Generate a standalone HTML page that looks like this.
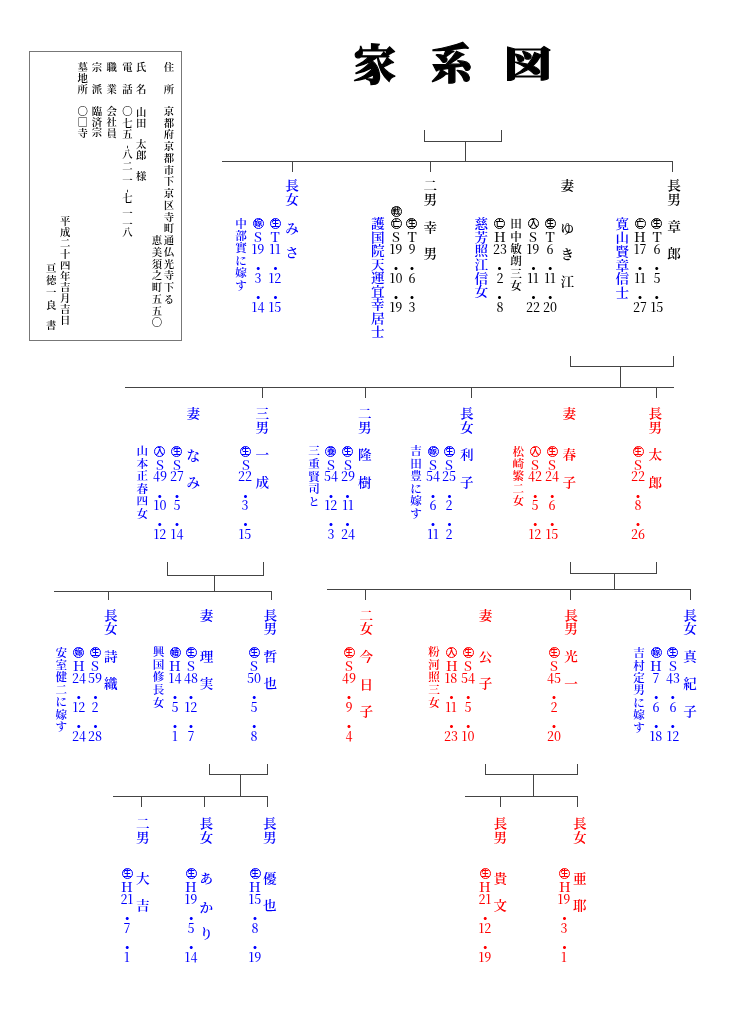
<!DOCTYPE html>
<html lang="ja"><head><meta charset="utf-8"><title>家系図</title><style>
*{margin:0;padding:0;box-sizing:border-box}
html,body{width:729px;height:1032px;background:#fff;overflow:hidden}
body{position:relative}
#w{position:absolute;left:0;top:0;width:729px;height:1032px;will-change:transform}
.c,.l{position:absolute;width:30px;height:30px;line-height:30px;text-align:center;white-space:nowrap}
.c{font-family:"Noto Serif CJK JP","Noto Serif CJK SC",serif;font-weight:600}
.l{font-family:"Noto Serif CJK JP","Noto Serif CJK SC","Liberation Serif",serif;font-weight:500}
.e{transform:scaleX(1.06)}
.s{transform:scaleY(0.95)}
.b{font-weight:600}
.n{transform:scaleX(0.98)}
.o{position:absolute;width:11px;height:11px;border:1px solid;border-radius:50%;font-family:"Noto Sans CJK JP","Noto Sans CJK SC",sans-serif;font-weight:700;font-size:8px;line-height:8.5px;text-align:center}
.title{position:absolute;width:44px;height:48px;line-height:48px;font-size:42px;-webkit-text-stroke:1.2px #000;text-align:center;font-family:"Noto Serif CJK JP","Noto Serif CJK SC",serif;font-weight:900;color:#000}
.hl{position:absolute;height:1px}
.hy{position:absolute;width:10px;height:10px;line-height:10px;text-align:center;font-family:"Liberation Serif",serif;font-size:10px;color:#000;transform:rotate(90deg)}
.vl{position:absolute;width:1px}
.box{position:absolute;left:29px;top:51px;width:153px;height:290px;border:1px solid #777}
</style></head>
<body><div id="w">
<div class="box"></div>
<div class="vl" style="left:424px;top:130px;height:12px;background:#444"></div>
<div class="vl" style="left:501px;top:130px;height:12px;background:#444"></div>
<div class="hl" style="left:424px;top:141px;width:78px;background:#444"></div>
<div class="vl" style="left:465px;top:141px;height:20px;background:#444"></div>
<div class="hl" style="left:222px;top:161px;width:451px;background:#444"></div>
<div class="vl" style="left:292px;top:161px;height:11px;background:#444"></div>
<div class="vl" style="left:430px;top:161px;height:11px;background:#444"></div>
<div class="vl" style="left:672px;top:161px;height:11px;background:#444"></div>
<div class="vl" style="left:570px;top:356px;height:11px;background:#444"></div>
<div class="vl" style="left:673px;top:356px;height:11px;background:#444"></div>
<div class="hl" style="left:570px;top:366px;width:104px;background:#444"></div>
<div class="vl" style="left:620px;top:366px;height:21px;background:#444"></div>
<div class="hl" style="left:125px;top:387px;width:549px;background:#444"></div>
<div class="vl" style="left:656px;top:387px;height:11px;background:#444"></div>
<div class="vl" style="left:471px;top:387px;height:11px;background:#444"></div>
<div class="vl" style="left:365px;top:387px;height:11px;background:#444"></div>
<div class="vl" style="left:262px;top:387px;height:11px;background:#444"></div>
<div class="vl" style="left:167px;top:562px;height:14px;background:#444"></div>
<div class="vl" style="left:263px;top:562px;height:14px;background:#444"></div>
<div class="hl" style="left:167px;top:575px;width:97px;background:#444"></div>
<div class="vl" style="left:214px;top:575px;height:16px;background:#444"></div>
<div class="hl" style="left:54px;top:591px;width:218px;background:#444"></div>
<div class="vl" style="left:108px;top:591px;height:9px;background:#444"></div>
<div class="vl" style="left:271px;top:591px;height:9px;background:#444"></div>
<div class="vl" style="left:570px;top:562px;height:12px;background:#444"></div>
<div class="vl" style="left:656px;top:562px;height:12px;background:#444"></div>
<div class="hl" style="left:570px;top:573px;width:87px;background:#444"></div>
<div class="vl" style="left:614px;top:573px;height:16px;background:#444"></div>
<div class="hl" style="left:327px;top:589px;width:364px;background:#444"></div>
<div class="vl" style="left:365px;top:589px;height:11px;background:#444"></div>
<div class="vl" style="left:570px;top:589px;height:11px;background:#444"></div>
<div class="vl" style="left:690px;top:589px;height:11px;background:#444"></div>
<div class="vl" style="left:209px;top:764px;height:11px;background:#444"></div>
<div class="vl" style="left:267px;top:764px;height:11px;background:#444"></div>
<div class="hl" style="left:209px;top:774px;width:59px;background:#444"></div>
<div class="vl" style="left:240px;top:774px;height:22px;background:#444"></div>
<div class="hl" style="left:113px;top:796px;width:155px;background:#444"></div>
<div class="vl" style="left:141px;top:796px;height:11px;background:#444"></div>
<div class="vl" style="left:204px;top:796px;height:11px;background:#444"></div>
<div class="vl" style="left:267px;top:796px;height:11px;background:#444"></div>
<div class="vl" style="left:485px;top:764px;height:11px;background:#444"></div>
<div class="vl" style="left:577px;top:764px;height:11px;background:#444"></div>
<div class="hl" style="left:485px;top:774px;width:93px;background:#444"></div>
<div class="vl" style="left:533px;top:774px;height:22px;background:#444"></div>
<div class="hl" style="left:465px;top:796px;width:113px;background:#444"></div>
<div class="vl" style="left:500px;top:796px;height:11px;background:#444"></div>
<div class="vl" style="left:577px;top:796px;height:11px;background:#444"></div>
<div class="title" style="left:352.8px;top:37.7px">家</div>
<div class="title" style="left:429.9px;top:37.0px">系</div>
<div class="title" style="left:506.2px;top:38.3px;transform:scale(1.13,0.85)">図</div>
<div class="c" style="left:154.0px;top:51.9px;font-size:10.4px;color:#000">住</div>
<div class="c" style="left:154.0px;top:73.9px;font-size:10.4px;color:#000">所</div>
<div class="c" style="left:154.0px;top:95.9px;font-size:10.4px;color:#000">京</div>
<div class="c" style="left:154.0px;top:107.6px;font-size:10.4px;color:#000">都</div>
<div class="c" style="left:154.0px;top:119.4px;font-size:10.4px;color:#000">府</div>
<div class="c" style="left:154.0px;top:131.1px;font-size:10.4px;color:#000">京</div>
<div class="c" style="left:154.0px;top:142.9px;font-size:10.4px;color:#000">都</div>
<div class="c" style="left:154.0px;top:154.6px;font-size:10.4px;color:#000">市</div>
<div class="c" style="left:154.0px;top:166.4px;font-size:10.4px;color:#000">下</div>
<div class="c" style="left:154.0px;top:178.1px;font-size:10.4px;color:#000">京</div>
<div class="c" style="left:154.0px;top:189.9px;font-size:10.4px;color:#000">区</div>
<div class="c" style="left:154.0px;top:201.6px;font-size:10.4px;color:#000">寺</div>
<div class="c" style="left:154.0px;top:213.4px;font-size:10.4px;color:#000">町</div>
<div class="c" style="left:154.0px;top:225.1px;font-size:10.4px;color:#000">通</div>
<div class="c" style="left:154.0px;top:236.9px;font-size:10.4px;color:#000">仏</div>
<div class="c" style="left:154.0px;top:248.6px;font-size:10.4px;color:#000">光</div>
<div class="c" style="left:154.0px;top:260.4px;font-size:10.4px;color:#000">寺</div>
<div class="c" style="left:154.0px;top:272.1px;font-size:10.4px;color:#000">下</div>
<div class="c" style="left:154.0px;top:283.9px;font-size:10.4px;color:#000">る</div>
<div class="c" style="left:141.9px;top:225.1px;font-size:10.4px;color:#000">恵</div>
<div class="c" style="left:141.9px;top:236.9px;font-size:10.4px;color:#000">美</div>
<div class="c" style="left:141.9px;top:248.6px;font-size:10.4px;color:#000">須</div>
<div class="c" style="left:141.9px;top:260.4px;font-size:10.4px;color:#000">之</div>
<div class="c" style="left:141.9px;top:272.1px;font-size:10.4px;color:#000">町</div>
<div class="c" style="left:141.9px;top:283.9px;font-size:10.4px;color:#000">五</div>
<div class="c" style="left:141.9px;top:295.6px;font-size:10.4px;color:#000">五</div>
<div class="c" style="left:141.9px;top:307.4px;font-size:10.4px;color:#000">〇</div>
<div class="c" style="left:126.1px;top:51.9px;font-size:10.4px;color:#000">氏</div>
<div class="c" style="left:126.1px;top:73.7px;font-size:10.4px;color:#000">名</div>
<div class="c" style="left:126.1px;top:96.6px;font-size:10.4px;color:#000">山</div>
<div class="c" style="left:126.1px;top:107.9px;font-size:10.4px;color:#000">田</div>
<div class="c" style="left:126.1px;top:129.1px;font-size:10.4px;color:#000">太</div>
<div class="c" style="left:126.1px;top:139.7px;font-size:10.4px;color:#000">郎</div>
<div class="c" style="left:126.1px;top:160.9px;font-size:10.4px;color:#000">様</div>
<div class="c" style="left:112.5px;top:51.9px;font-size:10.4px;color:#000">電</div>
<div class="c" style="left:112.5px;top:73.7px;font-size:10.4px;color:#000">話</div>
<div class="c" style="left:112.5px;top:96.1px;font-size:10.4px;color:#000">〇</div>
<div class="c" style="left:112.5px;top:107.8px;font-size:10.4px;color:#000">七</div>
<div class="c" style="left:112.5px;top:118.6px;font-size:10.4px;color:#000">五</div>
<div class="c" style="left:112.5px;top:139.2px;font-size:10.4px;color:#000">八</div>
<div class="c" style="left:112.5px;top:151.4px;font-size:10.4px;color:#000">二</div>
<div class="c" style="left:112.5px;top:165.3px;font-size:10.4px;color:#000">一</div>
<div class="c" style="left:112.5px;top:182.9px;font-size:10.4px;color:#000">七</div>
<div class="c" style="left:112.5px;top:198.4px;font-size:10.4px;color:#000">一</div>
<div class="c" style="left:112.5px;top:208.6px;font-size:10.4px;color:#000">一</div>
<div class="c" style="left:112.5px;top:217.4px;font-size:10.4px;color:#000">八</div>
<div class="hy" style="left:123px;top:142.0px">-</div>
<div class="hy" style="left:123px;top:186.4px">-</div>
<div class="c" style="left:96.8px;top:51.9px;font-size:10.4px;color:#000">職</div>
<div class="c" style="left:96.8px;top:73.9px;font-size:10.4px;color:#000">業</div>
<div class="c" style="left:96.8px;top:95.8px;font-size:10.4px;color:#000">会</div>
<div class="c" style="left:96.8px;top:106.6px;font-size:10.4px;color:#000">社</div>
<div class="c" style="left:96.8px;top:117.5px;font-size:10.4px;color:#000">員</div>
<div class="c" style="left:82.0px;top:51.9px;font-size:10.4px;color:#000">宗</div>
<div class="c" style="left:82.0px;top:74.1px;font-size:10.4px;color:#000">派</div>
<div class="c" style="left:82.0px;top:96.3px;font-size:10.4px;color:#000">臨</div>
<div class="c" style="left:82.0px;top:107.0px;font-size:10.4px;color:#000">済</div>
<div class="c" style="left:82.0px;top:117.4px;font-size:10.4px;color:#000">宗</div>
<div class="c" style="left:67.6px;top:51.9px;font-size:10.4px;color:#000">墓</div>
<div class="c" style="left:67.6px;top:62.8px;font-size:10.4px;color:#000">地</div>
<div class="c" style="left:67.6px;top:73.9px;font-size:10.4px;color:#000">所</div>
<div class="c" style="left:67.6px;top:96.4px;font-size:10.4px;color:#000">〇</div>
<div class="c" style="left:67.6px;top:107.3px;font-size:10.4px;color:#000">□</div>
<div class="c" style="left:67.6px;top:117.9px;font-size:10.4px;color:#000">寺</div>
<div class="c" style="left:50.3px;top:205.9px;font-size:10.4px;color:#000">平</div>
<div class="c" style="left:50.3px;top:216.9px;font-size:10.4px;color:#000">成</div>
<div class="c" style="left:50.3px;top:227.9px;font-size:10.4px;color:#000">二</div>
<div class="c" style="left:50.3px;top:238.9px;font-size:10.4px;color:#000">十</div>
<div class="c" style="left:50.3px;top:249.9px;font-size:10.4px;color:#000">四</div>
<div class="c" style="left:50.3px;top:260.9px;font-size:10.4px;color:#000">年</div>
<div class="c" style="left:50.3px;top:271.9px;font-size:10.4px;color:#000">吉</div>
<div class="c" style="left:50.3px;top:282.9px;font-size:10.4px;color:#000">月</div>
<div class="c" style="left:50.3px;top:293.9px;font-size:10.4px;color:#000">吉</div>
<div class="c" style="left:50.3px;top:304.9px;font-size:10.4px;color:#000">日</div>
<div class="c" style="left:36.1px;top:253.4px;font-size:10.4px;color:#000">亘</div>
<div class="c" style="left:36.1px;top:265.3px;font-size:10.4px;color:#000">徳</div>
<div class="c" style="left:36.1px;top:277.4px;font-size:10.4px;color:#000">一</div>
<div class="c" style="left:36.1px;top:289.6px;font-size:10.4px;color:#000">良</div>
<div class="c" style="left:36.1px;top:309.7px;font-size:10.4px;color:#000">書</div>
<div class="c s" style="left:277.1px;top:169.4px;font-size:13.6px;color:#0000ff">長</div>
<div class="c s" style="left:277.1px;top:183.0px;font-size:13.6px;color:#0000ff">女</div>
<div class="c s" style="left:277.1px;top:212.4px;font-size:13.6px;color:#0000ff">み</div>
<div class="c s" style="left:277.1px;top:236.4px;font-size:13.6px;color:#0000ff">さ</div>
<div class="o" style="left:269.9px;top:218.2px;color:#0000ff;border-color:#0000ff">生</div>
<div class="l e" style="left:260.4px;top:222.2px;font-size:13px;color:#0000ff">T</div>
<div class="l n" style="left:260.2px;top:233.9px;font-size:12.6px;color:#0000ff">11</div>
<div class="c" style="left:260.4px;top:253.1px;font-size:15px;color:#0000ff">・</div>
<div class="l n" style="left:260.2px;top:263.0px;font-size:12.6px;color:#0000ff">12</div>
<div class="c" style="left:260.4px;top:281.8px;font-size:15px;color:#0000ff">・</div>
<div class="l n" style="left:260.2px;top:291.8px;font-size:12.6px;color:#0000ff">15</div>
<div class="o" style="left:252.8px;top:218.2px;color:#0000ff;border-color:#0000ff">嫁</div>
<div class="l e" style="left:243.3px;top:222.2px;font-size:13px;color:#0000ff">S</div>
<div class="l n" style="left:243.2px;top:233.9px;font-size:12.6px;color:#0000ff">19</div>
<div class="c" style="left:243.3px;top:253.1px;font-size:15px;color:#0000ff">・</div>
<div class="l n" style="left:243.2px;top:263.0px;font-size:12.6px;color:#0000ff">3</div>
<div class="c" style="left:243.3px;top:281.8px;font-size:15px;color:#0000ff">・</div>
<div class="l n" style="left:243.2px;top:291.8px;font-size:12.6px;color:#0000ff">14</div>
<div class="c b" style="left:226.1px;top:207.5px;font-size:11.6px;color:#0000ff">中</div>
<div class="c b" style="left:226.1px;top:219.9px;font-size:11.6px;color:#0000ff">部</div>
<div class="c b" style="left:226.1px;top:232.3px;font-size:11.6px;color:#0000ff">實</div>
<div class="c b" style="left:226.1px;top:244.7px;font-size:11.6px;color:#0000ff">に</div>
<div class="c b" style="left:226.1px;top:257.2px;font-size:11.6px;color:#0000ff">嫁</div>
<div class="c b" style="left:226.1px;top:269.6px;font-size:11.6px;color:#0000ff">す</div>
<div class="c s" style="left:415.2px;top:169.4px;font-size:13.6px;color:#000">二</div>
<div class="c s" style="left:415.2px;top:183.0px;font-size:13.6px;color:#000">男</div>
<div class="c s" style="left:415.2px;top:210.5px;font-size:13.6px;color:#000">幸</div>
<div class="c s" style="left:415.2px;top:236.6px;font-size:13.6px;color:#000">男</div>
<div class="o" style="left:406.4px;top:218.2px;color:#000;border-color:#000">生</div>
<div class="l e" style="left:396.9px;top:222.2px;font-size:13px;color:#000">T</div>
<div class="l n" style="left:396.8px;top:233.9px;font-size:12.6px;color:#000">9</div>
<div class="c" style="left:396.9px;top:253.1px;font-size:15px;color:#000">・</div>
<div class="l n" style="left:396.8px;top:263.0px;font-size:12.6px;color:#000">6</div>
<div class="c" style="left:396.9px;top:281.8px;font-size:15px;color:#000">・</div>
<div class="l n" style="left:396.8px;top:291.8px;font-size:12.6px;color:#000">3</div>
<div class="o" style="left:390.6px;top:206.3px;color:#000;border-color:#000">戦</div>
<div class="o" style="left:390.6px;top:218.2px;color:#000;border-color:#000">亡</div>
<div class="l e" style="left:381.1px;top:222.2px;font-size:13px;color:#000">S</div>
<div class="l n" style="left:381.0px;top:233.9px;font-size:12.6px;color:#000">19</div>
<div class="c" style="left:381.1px;top:253.1px;font-size:15px;color:#000">・</div>
<div class="l n" style="left:381.0px;top:263.0px;font-size:12.6px;color:#000">10</div>
<div class="c" style="left:381.1px;top:281.8px;font-size:15px;color:#000">・</div>
<div class="l n" style="left:381.0px;top:291.8px;font-size:12.6px;color:#000">19</div>
<div class="c s" style="left:362.9px;top:207.0px;font-size:13.6px;color:#0000ff">護</div>
<div class="c s" style="left:362.9px;top:220.5px;font-size:13.6px;color:#0000ff">国</div>
<div class="c s" style="left:362.9px;top:234.0px;font-size:13.6px;color:#0000ff">院</div>
<div class="c s" style="left:362.9px;top:247.5px;font-size:13.6px;color:#0000ff">天</div>
<div class="c s" style="left:362.9px;top:261.0px;font-size:13.6px;color:#0000ff">運</div>
<div class="c s" style="left:362.9px;top:274.5px;font-size:13.6px;color:#0000ff">宜</div>
<div class="c s" style="left:362.9px;top:288.0px;font-size:13.6px;color:#0000ff">幸</div>
<div class="c s" style="left:362.9px;top:301.5px;font-size:13.6px;color:#0000ff">居</div>
<div class="c s" style="left:362.9px;top:315.0px;font-size:13.6px;color:#0000ff">士</div>
<div class="c s" style="left:552.4px;top:169.4px;font-size:13.6px;color:#000">妻</div>
<div class="c s" style="left:552.4px;top:211.8px;font-size:13.6px;color:#000">ゆ</div>
<div class="c s" style="left:552.4px;top:238.1px;font-size:13.6px;color:#000">き</div>
<div class="c s" style="left:552.4px;top:265.3px;font-size:13.6px;color:#000">江</div>
<div class="o" style="left:544.8px;top:218.2px;color:#000;border-color:#000">生</div>
<div class="l e" style="left:535.3px;top:222.2px;font-size:13px;color:#000">T</div>
<div class="l n" style="left:535.1px;top:233.9px;font-size:12.6px;color:#000">6</div>
<div class="c" style="left:535.3px;top:253.1px;font-size:15px;color:#000">・</div>
<div class="l n" style="left:535.1px;top:263.0px;font-size:12.6px;color:#000">11</div>
<div class="c" style="left:535.3px;top:281.8px;font-size:15px;color:#000">・</div>
<div class="l n" style="left:535.1px;top:291.8px;font-size:12.6px;color:#000">20</div>
<div class="o" style="left:527.9px;top:218.2px;color:#000;border-color:#000">入</div>
<div class="l e" style="left:518.4px;top:222.2px;font-size:13px;color:#000">S</div>
<div class="l n" style="left:518.2px;top:233.9px;font-size:12.6px;color:#000">19</div>
<div class="c" style="left:518.4px;top:253.1px;font-size:15px;color:#000">・</div>
<div class="l n" style="left:518.2px;top:263.0px;font-size:12.6px;color:#000">11</div>
<div class="c" style="left:518.4px;top:281.8px;font-size:15px;color:#000">・</div>
<div class="l n" style="left:518.2px;top:291.8px;font-size:12.6px;color:#000">22</div>
<div class="c b" style="left:501.1px;top:208.2px;font-size:11.6px;color:#000">田</div>
<div class="c b" style="left:501.1px;top:220.5px;font-size:11.6px;color:#000">中</div>
<div class="c b" style="left:501.1px;top:232.9px;font-size:11.6px;color:#000">敏</div>
<div class="c b" style="left:501.1px;top:245.3px;font-size:11.6px;color:#000">朗</div>
<div class="c b" style="left:501.1px;top:257.6px;font-size:11.6px;color:#000">三</div>
<div class="c b" style="left:501.1px;top:270.0px;font-size:11.6px;color:#000">女</div>
<div class="o" style="left:494.1px;top:218.2px;color:#000;border-color:#000">亡</div>
<div class="l e" style="left:484.6px;top:222.2px;font-size:13px;color:#000">H</div>
<div class="l n" style="left:484.5px;top:233.9px;font-size:12.6px;color:#000">23</div>
<div class="c" style="left:484.6px;top:253.1px;font-size:15px;color:#000">・</div>
<div class="l n" style="left:484.5px;top:263.0px;font-size:12.6px;color:#000">2</div>
<div class="c" style="left:484.6px;top:281.8px;font-size:15px;color:#000">・</div>
<div class="l n" style="left:484.5px;top:291.8px;font-size:12.6px;color:#000">8</div>
<div class="c s" style="left:466.4px;top:206.8px;font-size:13.6px;color:#0000ff">慈</div>
<div class="c s" style="left:466.4px;top:220.5px;font-size:13.6px;color:#0000ff">芳</div>
<div class="c s" style="left:466.4px;top:234.2px;font-size:13.6px;color:#0000ff">照</div>
<div class="c s" style="left:466.4px;top:247.9px;font-size:13.6px;color:#0000ff">江</div>
<div class="c s" style="left:466.4px;top:261.6px;font-size:13.6px;color:#0000ff">信</div>
<div class="c s" style="left:466.4px;top:275.3px;font-size:13.6px;color:#0000ff">女</div>
<div class="c s" style="left:659.0px;top:169.4px;font-size:13.6px;color:#000">長</div>
<div class="c s" style="left:659.0px;top:183.0px;font-size:13.6px;color:#000">男</div>
<div class="c s" style="left:659.0px;top:209.9px;font-size:13.6px;color:#000">章</div>
<div class="c s" style="left:659.0px;top:237.0px;font-size:13.6px;color:#000">郎</div>
<div class="o" style="left:651.3px;top:218.2px;color:#000;border-color:#000">生</div>
<div class="l e" style="left:641.8px;top:222.2px;font-size:13px;color:#000">T</div>
<div class="l n" style="left:641.6px;top:233.9px;font-size:12.6px;color:#000">6</div>
<div class="c" style="left:641.8px;top:253.1px;font-size:15px;color:#000">・</div>
<div class="l n" style="left:641.6px;top:263.0px;font-size:12.6px;color:#000">5</div>
<div class="c" style="left:641.8px;top:281.8px;font-size:15px;color:#000">・</div>
<div class="l n" style="left:641.6px;top:291.8px;font-size:12.6px;color:#000">15</div>
<div class="o" style="left:634.5px;top:218.2px;color:#000;border-color:#000">亡</div>
<div class="l e" style="left:625.0px;top:222.2px;font-size:13px;color:#000">H</div>
<div class="l n" style="left:624.9px;top:233.9px;font-size:12.6px;color:#000">17</div>
<div class="c" style="left:625.0px;top:253.1px;font-size:15px;color:#000">・</div>
<div class="l n" style="left:624.9px;top:263.0px;font-size:12.6px;color:#000">11</div>
<div class="c" style="left:625.0px;top:281.8px;font-size:15px;color:#000">・</div>
<div class="l n" style="left:624.9px;top:291.8px;font-size:12.6px;color:#000">27</div>
<div class="c s" style="left:607.2px;top:207.2px;font-size:13.6px;color:#0000ff">寛</div>
<div class="c s" style="left:607.2px;top:220.9px;font-size:13.6px;color:#0000ff">山</div>
<div class="c s" style="left:607.2px;top:234.7px;font-size:13.6px;color:#0000ff">賢</div>
<div class="c s" style="left:607.2px;top:248.5px;font-size:13.6px;color:#0000ff">章</div>
<div class="c s" style="left:607.2px;top:262.2px;font-size:13.6px;color:#0000ff">信</div>
<div class="c s" style="left:607.2px;top:276.0px;font-size:13.6px;color:#0000ff">士</div>
<div class="c s" style="left:640.3px;top:397.4px;font-size:13.6px;color:#ff0000">長</div>
<div class="c s" style="left:640.3px;top:411.0px;font-size:13.6px;color:#ff0000">男</div>
<div class="c s" style="left:640.3px;top:438.4px;font-size:13.6px;color:#ff0000">太</div>
<div class="c s" style="left:640.3px;top:465.7px;font-size:13.6px;color:#ff0000">郎</div>
<div class="o" style="left:632.5px;top:445.6px;color:#ff0000;border-color:#ff0000">生</div>
<div class="l e" style="left:623.0px;top:449.6px;font-size:13px;color:#ff0000">S</div>
<div class="l n" style="left:622.9px;top:461.3px;font-size:12.6px;color:#ff0000">22</div>
<div class="c" style="left:623.0px;top:480.5px;font-size:15px;color:#ff0000">・</div>
<div class="l n" style="left:622.9px;top:490.4px;font-size:12.6px;color:#ff0000">8</div>
<div class="c" style="left:623.0px;top:509.2px;font-size:15px;color:#ff0000">・</div>
<div class="l n" style="left:622.9px;top:519.2px;font-size:12.6px;color:#ff0000">26</div>
<div class="c s" style="left:554.2px;top:397.4px;font-size:13.6px;color:#ff0000">妻</div>
<div class="c s" style="left:554.2px;top:438.4px;font-size:13.6px;color:#ff0000">春</div>
<div class="c s" style="left:554.2px;top:465.7px;font-size:13.6px;color:#ff0000">子</div>
<div class="o" style="left:546.8px;top:445.6px;color:#ff0000;border-color:#ff0000">生</div>
<div class="l e" style="left:537.3px;top:449.6px;font-size:13px;color:#ff0000">S</div>
<div class="l n" style="left:537.1px;top:461.3px;font-size:12.6px;color:#ff0000">24</div>
<div class="c" style="left:537.3px;top:480.5px;font-size:15px;color:#ff0000">・</div>
<div class="l n" style="left:537.1px;top:490.4px;font-size:12.6px;color:#ff0000">6</div>
<div class="c" style="left:537.3px;top:509.2px;font-size:15px;color:#ff0000">・</div>
<div class="l n" style="left:537.1px;top:519.2px;font-size:12.6px;color:#ff0000">15</div>
<div class="o" style="left:529.8px;top:445.6px;color:#ff0000;border-color:#ff0000">入</div>
<div class="l e" style="left:520.3px;top:449.6px;font-size:13px;color:#ff0000">S</div>
<div class="l n" style="left:520.1px;top:461.3px;font-size:12.6px;color:#ff0000">42</div>
<div class="c" style="left:520.3px;top:480.5px;font-size:15px;color:#ff0000">・</div>
<div class="l n" style="left:520.1px;top:490.4px;font-size:12.6px;color:#ff0000">5</div>
<div class="c" style="left:520.3px;top:509.2px;font-size:15px;color:#ff0000">・</div>
<div class="l n" style="left:520.1px;top:519.2px;font-size:12.6px;color:#ff0000">12</div>
<div class="c b" style="left:503.2px;top:436.0px;font-size:11.6px;color:#ff0000">松</div>
<div class="c b" style="left:503.2px;top:448.2px;font-size:11.6px;color:#ff0000">崎</div>
<div class="c b" style="left:503.2px;top:460.4px;font-size:11.6px;color:#ff0000">繁</div>
<div class="c b" style="left:503.2px;top:472.6px;font-size:11.6px;color:#ff0000">二</div>
<div class="c b" style="left:503.2px;top:484.8px;font-size:11.6px;color:#ff0000">女</div>
<div class="c s" style="left:451.9px;top:397.4px;font-size:13.6px;color:#0000ff">長</div>
<div class="c s" style="left:451.9px;top:411.0px;font-size:13.6px;color:#0000ff">女</div>
<div class="c s" style="left:451.9px;top:438.4px;font-size:13.6px;color:#0000ff">利</div>
<div class="c s" style="left:451.9px;top:465.7px;font-size:13.6px;color:#0000ff">子</div>
<div class="o" style="left:443.9px;top:445.6px;color:#0000ff;border-color:#0000ff">生</div>
<div class="l e" style="left:434.4px;top:449.6px;font-size:13px;color:#0000ff">S</div>
<div class="l n" style="left:434.2px;top:461.3px;font-size:12.6px;color:#0000ff">25</div>
<div class="c" style="left:434.4px;top:480.5px;font-size:15px;color:#0000ff">・</div>
<div class="l n" style="left:434.2px;top:490.4px;font-size:12.6px;color:#0000ff">2</div>
<div class="c" style="left:434.4px;top:509.2px;font-size:15px;color:#0000ff">・</div>
<div class="l n" style="left:434.2px;top:519.2px;font-size:12.6px;color:#0000ff">2</div>
<div class="o" style="left:427.5px;top:445.6px;color:#0000ff;border-color:#0000ff">嫁</div>
<div class="l e" style="left:418.0px;top:449.6px;font-size:13px;color:#0000ff">S</div>
<div class="l n" style="left:417.9px;top:461.3px;font-size:12.6px;color:#0000ff">54</div>
<div class="c" style="left:418.0px;top:480.5px;font-size:15px;color:#0000ff">・</div>
<div class="l n" style="left:417.9px;top:490.4px;font-size:12.6px;color:#0000ff">6</div>
<div class="c" style="left:418.0px;top:509.2px;font-size:15px;color:#0000ff">・</div>
<div class="l n" style="left:417.9px;top:519.2px;font-size:12.6px;color:#0000ff">11</div>
<div class="c b" style="left:401.1px;top:435.3px;font-size:11.6px;color:#0000ff">吉</div>
<div class="c b" style="left:401.1px;top:447.8px;font-size:11.6px;color:#0000ff">田</div>
<div class="c b" style="left:401.1px;top:460.3px;font-size:11.6px;color:#0000ff">豊</div>
<div class="c b" style="left:401.1px;top:472.8px;font-size:11.6px;color:#0000ff">に</div>
<div class="c b" style="left:401.1px;top:485.3px;font-size:11.6px;color:#0000ff">嫁</div>
<div class="c b" style="left:401.1px;top:497.8px;font-size:11.6px;color:#0000ff">す</div>
<div class="c s" style="left:349.7px;top:397.4px;font-size:13.6px;color:#0000ff">二</div>
<div class="c s" style="left:349.7px;top:411.0px;font-size:13.6px;color:#0000ff">男</div>
<div class="c s" style="left:349.7px;top:438.4px;font-size:13.6px;color:#0000ff">隆</div>
<div class="c s" style="left:349.7px;top:465.7px;font-size:13.6px;color:#0000ff">樹</div>
<div class="o" style="left:342.1px;top:445.6px;color:#0000ff;border-color:#0000ff">生</div>
<div class="l e" style="left:332.6px;top:449.6px;font-size:13px;color:#0000ff">S</div>
<div class="l n" style="left:332.5px;top:461.3px;font-size:12.6px;color:#0000ff">29</div>
<div class="c" style="left:332.6px;top:480.5px;font-size:15px;color:#0000ff">・</div>
<div class="l n" style="left:332.5px;top:490.4px;font-size:12.6px;color:#0000ff">11</div>
<div class="c" style="left:332.6px;top:509.2px;font-size:15px;color:#0000ff">・</div>
<div class="l n" style="left:332.5px;top:519.2px;font-size:12.6px;color:#0000ff">24</div>
<div class="o" style="left:325.4px;top:445.6px;color:#0000ff;border-color:#0000ff">養</div>
<div class="l e" style="left:315.9px;top:449.6px;font-size:13px;color:#0000ff">S</div>
<div class="l n" style="left:315.8px;top:461.3px;font-size:12.6px;color:#0000ff">54</div>
<div class="c" style="left:315.9px;top:480.5px;font-size:15px;color:#0000ff">・</div>
<div class="l n" style="left:315.8px;top:490.4px;font-size:12.6px;color:#0000ff">12</div>
<div class="c" style="left:315.9px;top:509.2px;font-size:15px;color:#0000ff">・</div>
<div class="l n" style="left:315.8px;top:519.2px;font-size:12.6px;color:#0000ff">3</div>
<div class="c b" style="left:299.1px;top:435.3px;font-size:11.6px;color:#0000ff">三</div>
<div class="c b" style="left:299.1px;top:447.9px;font-size:11.6px;color:#0000ff">重</div>
<div class="c b" style="left:299.1px;top:460.5px;font-size:11.6px;color:#0000ff">賢</div>
<div class="c b" style="left:299.1px;top:473.1px;font-size:11.6px;color:#0000ff">司</div>
<div class="c b" style="left:299.1px;top:485.7px;font-size:11.6px;color:#0000ff">と</div>
<div class="c s" style="left:247.2px;top:397.4px;font-size:13.6px;color:#0000ff">三</div>
<div class="c s" style="left:247.2px;top:411.0px;font-size:13.6px;color:#0000ff">男</div>
<div class="c s" style="left:247.2px;top:438.4px;font-size:13.6px;color:#0000ff">一</div>
<div class="c s" style="left:247.2px;top:465.7px;font-size:13.6px;color:#0000ff">成</div>
<div class="o" style="left:240.1px;top:445.6px;color:#0000ff;border-color:#0000ff">生</div>
<div class="l e" style="left:230.6px;top:449.6px;font-size:13px;color:#0000ff">S</div>
<div class="l n" style="left:230.4px;top:461.3px;font-size:12.6px;color:#0000ff">22</div>
<div class="c" style="left:230.6px;top:480.5px;font-size:15px;color:#0000ff">・</div>
<div class="l n" style="left:230.4px;top:490.4px;font-size:12.6px;color:#0000ff">3</div>
<div class="c" style="left:230.6px;top:509.2px;font-size:15px;color:#0000ff">・</div>
<div class="l n" style="left:230.4px;top:519.2px;font-size:12.6px;color:#0000ff">15</div>
<div class="c s" style="left:178.4px;top:397.4px;font-size:13.6px;color:#0000ff">妻</div>
<div class="c s" style="left:178.4px;top:438.5px;font-size:13.6px;color:#0000ff">な</div>
<div class="c s" style="left:178.4px;top:466.3px;font-size:13.6px;color:#0000ff">み</div>
<div class="o" style="left:171.4px;top:445.6px;color:#0000ff;border-color:#0000ff">生</div>
<div class="l e" style="left:161.9px;top:449.6px;font-size:13px;color:#0000ff">S</div>
<div class="l n" style="left:161.8px;top:461.3px;font-size:12.6px;color:#0000ff">27</div>
<div class="c" style="left:161.9px;top:480.5px;font-size:15px;color:#0000ff">・</div>
<div class="l n" style="left:161.8px;top:490.4px;font-size:12.6px;color:#0000ff">5</div>
<div class="c" style="left:161.9px;top:509.2px;font-size:15px;color:#0000ff">・</div>
<div class="l n" style="left:161.8px;top:519.2px;font-size:12.6px;color:#0000ff">14</div>
<div class="o" style="left:154.3px;top:445.6px;color:#0000ff;border-color:#0000ff">入</div>
<div class="l e" style="left:144.8px;top:449.6px;font-size:13px;color:#0000ff">S</div>
<div class="l n" style="left:144.7px;top:461.3px;font-size:12.6px;color:#0000ff">49</div>
<div class="c" style="left:144.8px;top:480.5px;font-size:15px;color:#0000ff">・</div>
<div class="l n" style="left:144.7px;top:490.4px;font-size:12.6px;color:#0000ff">10</div>
<div class="c" style="left:144.8px;top:509.2px;font-size:15px;color:#0000ff">・</div>
<div class="l n" style="left:144.7px;top:519.2px;font-size:12.6px;color:#0000ff">12</div>
<div class="c b" style="left:127.4px;top:435.4px;font-size:11.6px;color:#0000ff">山</div>
<div class="c b" style="left:127.4px;top:447.9px;font-size:11.6px;color:#0000ff">本</div>
<div class="c b" style="left:127.4px;top:460.4px;font-size:11.6px;color:#0000ff">正</div>
<div class="c b" style="left:127.4px;top:472.9px;font-size:11.6px;color:#0000ff">春</div>
<div class="c b" style="left:127.4px;top:485.4px;font-size:11.6px;color:#0000ff">四</div>
<div class="c b" style="left:127.4px;top:497.9px;font-size:11.6px;color:#0000ff">女</div>
<div class="c s" style="left:675.1px;top:598.7px;font-size:13.6px;color:#0000ff">長</div>
<div class="c s" style="left:675.1px;top:612.3px;font-size:13.6px;color:#0000ff">女</div>
<div class="c s" style="left:675.1px;top:639.6px;font-size:13.6px;color:#0000ff">真</div>
<div class="c s" style="left:675.1px;top:667.1px;font-size:13.6px;color:#0000ff">紀</div>
<div class="c s" style="left:675.1px;top:694.6px;font-size:13.6px;color:#0000ff">子</div>
<div class="o" style="left:667.3px;top:647.2px;color:#0000ff;border-color:#0000ff">生</div>
<div class="l e" style="left:657.8px;top:651.2px;font-size:13px;color:#0000ff">S</div>
<div class="l n" style="left:657.6px;top:662.9px;font-size:12.6px;color:#0000ff">43</div>
<div class="c" style="left:657.8px;top:682.1px;font-size:15px;color:#0000ff">・</div>
<div class="l n" style="left:657.6px;top:692.0px;font-size:12.6px;color:#0000ff">6</div>
<div class="c" style="left:657.8px;top:710.8px;font-size:15px;color:#0000ff">・</div>
<div class="l n" style="left:657.6px;top:720.8px;font-size:12.6px;color:#0000ff">12</div>
<div class="o" style="left:650.7px;top:647.2px;color:#0000ff;border-color:#0000ff">嫁</div>
<div class="l e" style="left:641.2px;top:651.2px;font-size:13px;color:#0000ff">H</div>
<div class="l n" style="left:641.1px;top:662.9px;font-size:12.6px;color:#0000ff">7</div>
<div class="c" style="left:641.2px;top:682.1px;font-size:15px;color:#0000ff">・</div>
<div class="l n" style="left:641.1px;top:692.0px;font-size:12.6px;color:#0000ff">6</div>
<div class="c" style="left:641.2px;top:710.8px;font-size:15px;color:#0000ff">・</div>
<div class="l n" style="left:641.1px;top:720.8px;font-size:12.6px;color:#0000ff">18</div>
<div class="c b" style="left:624.0px;top:637.2px;font-size:11.6px;color:#0000ff">吉</div>
<div class="c b" style="left:624.0px;top:649.6px;font-size:11.6px;color:#0000ff">村</div>
<div class="c b" style="left:624.0px;top:662.0px;font-size:11.6px;color:#0000ff">定</div>
<div class="c b" style="left:624.0px;top:674.4px;font-size:11.6px;color:#0000ff">男</div>
<div class="c b" style="left:624.0px;top:686.8px;font-size:11.6px;color:#0000ff">に</div>
<div class="c b" style="left:624.0px;top:699.2px;font-size:11.6px;color:#0000ff">嫁</div>
<div class="c b" style="left:624.0px;top:711.6px;font-size:11.6px;color:#0000ff">す</div>
<div class="c s" style="left:556.1px;top:598.7px;font-size:13.6px;color:#ff0000">長</div>
<div class="c s" style="left:556.1px;top:612.3px;font-size:13.6px;color:#ff0000">男</div>
<div class="c s" style="left:556.1px;top:639.6px;font-size:13.6px;color:#ff0000">光</div>
<div class="c s" style="left:556.1px;top:666.9px;font-size:13.6px;color:#ff0000">一</div>
<div class="o" style="left:548.6px;top:647.2px;color:#ff0000;border-color:#ff0000">生</div>
<div class="l e" style="left:539.1px;top:651.2px;font-size:13px;color:#ff0000">S</div>
<div class="l n" style="left:539.0px;top:662.9px;font-size:12.6px;color:#ff0000">45</div>
<div class="c" style="left:539.1px;top:682.1px;font-size:15px;color:#ff0000">・</div>
<div class="l n" style="left:539.0px;top:692.0px;font-size:12.6px;color:#ff0000">2</div>
<div class="c" style="left:539.1px;top:710.8px;font-size:15px;color:#ff0000">・</div>
<div class="l n" style="left:539.0px;top:720.8px;font-size:12.6px;color:#ff0000">20</div>
<div class="c s" style="left:470.6px;top:598.7px;font-size:13.6px;color:#ff0000">妻</div>
<div class="c s" style="left:470.6px;top:639.6px;font-size:13.6px;color:#ff0000">公</div>
<div class="c s" style="left:470.6px;top:666.9px;font-size:13.6px;color:#ff0000">子</div>
<div class="o" style="left:462.8px;top:647.2px;color:#ff0000;border-color:#ff0000">生</div>
<div class="l e" style="left:453.3px;top:651.2px;font-size:13px;color:#ff0000">S</div>
<div class="l n" style="left:453.2px;top:662.9px;font-size:12.6px;color:#ff0000">54</div>
<div class="c" style="left:453.3px;top:682.1px;font-size:15px;color:#ff0000">・</div>
<div class="l n" style="left:453.2px;top:692.0px;font-size:12.6px;color:#ff0000">5</div>
<div class="c" style="left:453.3px;top:710.8px;font-size:15px;color:#ff0000">・</div>
<div class="l n" style="left:453.2px;top:720.8px;font-size:12.6px;color:#ff0000">10</div>
<div class="o" style="left:446.0px;top:647.2px;color:#ff0000;border-color:#ff0000">入</div>
<div class="l e" style="left:436.5px;top:651.2px;font-size:13px;color:#ff0000">H</div>
<div class="l n" style="left:436.4px;top:662.9px;font-size:12.6px;color:#ff0000">18</div>
<div class="c" style="left:436.5px;top:682.1px;font-size:15px;color:#ff0000">・</div>
<div class="l n" style="left:436.4px;top:692.0px;font-size:12.6px;color:#ff0000">11</div>
<div class="c" style="left:436.5px;top:710.8px;font-size:15px;color:#ff0000">・</div>
<div class="l n" style="left:436.4px;top:720.8px;font-size:12.6px;color:#ff0000">23</div>
<div class="c b" style="left:419.1px;top:636.2px;font-size:11.6px;color:#ff0000">粉</div>
<div class="c b" style="left:419.1px;top:648.8px;font-size:11.6px;color:#ff0000">河</div>
<div class="c b" style="left:419.1px;top:661.4px;font-size:11.6px;color:#ff0000">照</div>
<div class="c b" style="left:419.1px;top:674.0px;font-size:11.6px;color:#ff0000">三</div>
<div class="c b" style="left:419.1px;top:686.6px;font-size:11.6px;color:#ff0000">女</div>
<div class="c s" style="left:351.2px;top:598.7px;font-size:13.6px;color:#ff0000">二</div>
<div class="c s" style="left:351.2px;top:612.3px;font-size:13.6px;color:#ff0000">女</div>
<div class="c s" style="left:351.2px;top:639.6px;font-size:13.6px;color:#ff0000">今</div>
<div class="c s" style="left:351.2px;top:667.5px;font-size:13.6px;color:#ff0000">日</div>
<div class="c s" style="left:351.2px;top:695.4px;font-size:13.6px;color:#ff0000">子</div>
<div class="o" style="left:343.6px;top:647.2px;color:#ff0000;border-color:#ff0000">生</div>
<div class="l e" style="left:334.1px;top:651.2px;font-size:13px;color:#ff0000">S</div>
<div class="l n" style="left:334.0px;top:662.9px;font-size:12.6px;color:#ff0000">49</div>
<div class="c" style="left:334.1px;top:682.1px;font-size:15px;color:#ff0000">・</div>
<div class="l n" style="left:334.0px;top:692.0px;font-size:12.6px;color:#ff0000">9</div>
<div class="c" style="left:334.1px;top:710.8px;font-size:15px;color:#ff0000">・</div>
<div class="l n" style="left:334.0px;top:720.8px;font-size:12.6px;color:#ff0000">4</div>
<div class="c s" style="left:255.2px;top:598.7px;font-size:13.6px;color:#0000ff">長</div>
<div class="c s" style="left:255.2px;top:612.3px;font-size:13.6px;color:#0000ff">男</div>
<div class="c s" style="left:255.2px;top:639.6px;font-size:13.6px;color:#0000ff">哲</div>
<div class="c s" style="left:255.2px;top:666.9px;font-size:13.6px;color:#0000ff">也</div>
<div class="o" style="left:248.7px;top:647.2px;color:#0000ff;border-color:#0000ff">生</div>
<div class="l e" style="left:239.2px;top:651.2px;font-size:13px;color:#0000ff">S</div>
<div class="l n" style="left:239.0px;top:662.9px;font-size:12.6px;color:#0000ff">50</div>
<div class="c" style="left:239.2px;top:682.1px;font-size:15px;color:#0000ff">・</div>
<div class="l n" style="left:239.0px;top:692.0px;font-size:12.6px;color:#0000ff">5</div>
<div class="c" style="left:239.2px;top:710.8px;font-size:15px;color:#0000ff">・</div>
<div class="l n" style="left:239.0px;top:720.8px;font-size:12.6px;color:#0000ff">8</div>
<div class="c s" style="left:191.5px;top:598.7px;font-size:13.6px;color:#0000ff">妻</div>
<div class="c s" style="left:191.5px;top:639.6px;font-size:13.6px;color:#0000ff">理</div>
<div class="c s" style="left:191.5px;top:666.9px;font-size:13.6px;color:#0000ff">実</div>
<div class="o" style="left:185.5px;top:647.2px;color:#0000ff;border-color:#0000ff">生</div>
<div class="l e" style="left:176.0px;top:651.2px;font-size:13px;color:#0000ff">S</div>
<div class="l n" style="left:175.8px;top:662.9px;font-size:12.6px;color:#0000ff">48</div>
<div class="c" style="left:176.0px;top:682.1px;font-size:15px;color:#0000ff">・</div>
<div class="l n" style="left:175.8px;top:692.0px;font-size:12.6px;color:#0000ff">12</div>
<div class="c" style="left:176.0px;top:710.8px;font-size:15px;color:#0000ff">・</div>
<div class="l n" style="left:175.8px;top:720.8px;font-size:12.6px;color:#0000ff">7</div>
<div class="o" style="left:169.5px;top:647.2px;color:#0000ff;border-color:#0000ff">婚</div>
<div class="l e" style="left:160.0px;top:651.2px;font-size:13px;color:#0000ff">H</div>
<div class="l n" style="left:159.8px;top:662.9px;font-size:12.6px;color:#0000ff">14</div>
<div class="c" style="left:160.0px;top:682.1px;font-size:15px;color:#0000ff">・</div>
<div class="l n" style="left:159.8px;top:692.0px;font-size:12.6px;color:#0000ff">5</div>
<div class="c" style="left:160.0px;top:710.8px;font-size:15px;color:#0000ff">・</div>
<div class="l n" style="left:159.8px;top:720.8px;font-size:12.6px;color:#0000ff">1</div>
<div class="c b" style="left:143.5px;top:636.1px;font-size:11.6px;color:#0000ff">興</div>
<div class="c b" style="left:143.5px;top:648.7px;font-size:11.6px;color:#0000ff">国</div>
<div class="c b" style="left:143.5px;top:661.3px;font-size:11.6px;color:#0000ff">修</div>
<div class="c b" style="left:143.5px;top:673.9px;font-size:11.6px;color:#0000ff">長</div>
<div class="c b" style="left:143.5px;top:686.5px;font-size:11.6px;color:#0000ff">女</div>
<div class="c s" style="left:95.8px;top:598.7px;font-size:13.6px;color:#0000ff">長</div>
<div class="c s" style="left:95.8px;top:612.3px;font-size:13.6px;color:#0000ff">女</div>
<div class="c s" style="left:95.8px;top:639.6px;font-size:13.6px;color:#0000ff">詩</div>
<div class="c s" style="left:95.8px;top:666.9px;font-size:13.6px;color:#0000ff">織</div>
<div class="o" style="left:89.9px;top:647.2px;color:#0000ff;border-color:#0000ff">生</div>
<div class="l e" style="left:80.4px;top:651.2px;font-size:13px;color:#0000ff">S</div>
<div class="l n" style="left:80.2px;top:662.9px;font-size:12.6px;color:#0000ff">59</div>
<div class="c" style="left:80.4px;top:682.1px;font-size:15px;color:#0000ff">・</div>
<div class="l n" style="left:80.2px;top:692.0px;font-size:12.6px;color:#0000ff">2</div>
<div class="c" style="left:80.4px;top:710.8px;font-size:15px;color:#0000ff">・</div>
<div class="l n" style="left:80.2px;top:720.8px;font-size:12.6px;color:#0000ff">28</div>
<div class="o" style="left:73.3px;top:647.2px;color:#0000ff;border-color:#0000ff">嫁</div>
<div class="l e" style="left:63.8px;top:651.2px;font-size:13px;color:#0000ff">H</div>
<div class="l n" style="left:63.6px;top:662.9px;font-size:12.6px;color:#0000ff">24</div>
<div class="c" style="left:63.8px;top:682.1px;font-size:15px;color:#0000ff">・</div>
<div class="l n" style="left:63.6px;top:692.0px;font-size:12.6px;color:#0000ff">12</div>
<div class="c" style="left:63.8px;top:710.8px;font-size:15px;color:#0000ff">・</div>
<div class="l n" style="left:63.6px;top:720.8px;font-size:12.6px;color:#0000ff">24</div>
<div class="c b" style="left:46.4px;top:636.5px;font-size:11.6px;color:#0000ff">安</div>
<div class="c b" style="left:46.4px;top:648.9px;font-size:11.6px;color:#0000ff">室</div>
<div class="c b" style="left:46.4px;top:661.3px;font-size:11.6px;color:#0000ff">健</div>
<div class="c b" style="left:46.4px;top:673.7px;font-size:11.6px;color:#0000ff">二</div>
<div class="c b" style="left:46.4px;top:686.1px;font-size:11.6px;color:#0000ff">に</div>
<div class="c b" style="left:46.4px;top:698.5px;font-size:11.6px;color:#0000ff">嫁</div>
<div class="c b" style="left:46.4px;top:710.9px;font-size:11.6px;color:#0000ff">す</div>
<div class="c s" style="left:127.9px;top:807.4px;font-size:13.6px;color:#0000ff">二</div>
<div class="c s" style="left:127.9px;top:821.0px;font-size:13.6px;color:#0000ff">男</div>
<div class="c s" style="left:127.9px;top:861.7px;font-size:13.6px;color:#0000ff">大</div>
<div class="c s" style="left:127.9px;top:889.0px;font-size:13.6px;color:#0000ff">吉</div>
<div class="o" style="left:121.8px;top:868.0px;color:#0000ff;border-color:#0000ff">生</div>
<div class="l e" style="left:112.3px;top:872.0px;font-size:13px;color:#0000ff">H</div>
<div class="l n" style="left:112.1px;top:883.7px;font-size:12.6px;color:#0000ff">21</div>
<div class="c" style="left:112.3px;top:902.9px;font-size:15px;color:#0000ff">・</div>
<div class="l n" style="left:112.1px;top:912.8px;font-size:12.6px;color:#0000ff">7</div>
<div class="c" style="left:112.3px;top:931.6px;font-size:15px;color:#0000ff">・</div>
<div class="l n" style="left:112.1px;top:941.6px;font-size:12.6px;color:#0000ff">1</div>
<div class="c s" style="left:191.4px;top:807.4px;font-size:13.6px;color:#0000ff">長</div>
<div class="c s" style="left:191.4px;top:821.0px;font-size:13.6px;color:#0000ff">女</div>
<div class="c s" style="left:191.4px;top:861.7px;font-size:13.6px;color:#0000ff">あ</div>
<div class="c s" style="left:191.4px;top:890.5px;font-size:13.6px;color:#0000ff">か</div>
<div class="c s" style="left:191.4px;top:916.8px;font-size:13.6px;color:#0000ff">り</div>
<div class="o" style="left:185.7px;top:868.0px;color:#0000ff;border-color:#0000ff">生</div>
<div class="l e" style="left:176.2px;top:872.0px;font-size:13px;color:#0000ff">H</div>
<div class="l n" style="left:176.0px;top:883.7px;font-size:12.6px;color:#0000ff">19</div>
<div class="c" style="left:176.2px;top:902.9px;font-size:15px;color:#0000ff">・</div>
<div class="l n" style="left:176.0px;top:912.8px;font-size:12.6px;color:#0000ff">5</div>
<div class="c" style="left:176.2px;top:931.6px;font-size:15px;color:#0000ff">・</div>
<div class="l n" style="left:176.0px;top:941.6px;font-size:12.6px;color:#0000ff">14</div>
<div class="c s" style="left:254.9px;top:807.4px;font-size:13.6px;color:#0000ff">長</div>
<div class="c s" style="left:254.9px;top:821.0px;font-size:13.6px;color:#0000ff">男</div>
<div class="c s" style="left:254.9px;top:861.7px;font-size:13.6px;color:#0000ff">優</div>
<div class="c s" style="left:254.9px;top:889.0px;font-size:13.6px;color:#0000ff">也</div>
<div class="o" style="left:249.5px;top:868.0px;color:#0000ff;border-color:#0000ff">生</div>
<div class="l e" style="left:240.0px;top:872.0px;font-size:13px;color:#0000ff">H</div>
<div class="l n" style="left:239.8px;top:883.7px;font-size:12.6px;color:#0000ff">15</div>
<div class="c" style="left:240.0px;top:902.9px;font-size:15px;color:#0000ff">・</div>
<div class="l n" style="left:239.8px;top:912.8px;font-size:12.6px;color:#0000ff">8</div>
<div class="c" style="left:240.0px;top:931.6px;font-size:15px;color:#0000ff">・</div>
<div class="l n" style="left:239.8px;top:941.6px;font-size:12.6px;color:#0000ff">19</div>
<div class="c s" style="left:485.2px;top:807.4px;font-size:13.6px;color:#ff0000">長</div>
<div class="c s" style="left:485.2px;top:821.0px;font-size:13.6px;color:#ff0000">男</div>
<div class="c s" style="left:485.2px;top:861.7px;font-size:13.6px;color:#ff0000">貴</div>
<div class="c s" style="left:485.2px;top:889.0px;font-size:13.6px;color:#ff0000">文</div>
<div class="o" style="left:479.7px;top:868.0px;color:#ff0000;border-color:#ff0000">生</div>
<div class="l e" style="left:470.2px;top:872.0px;font-size:13px;color:#ff0000">H</div>
<div class="l n" style="left:470.1px;top:883.7px;font-size:12.6px;color:#ff0000">21</div>
<div class="c" style="left:470.2px;top:902.9px;font-size:15px;color:#ff0000">・</div>
<div class="l n" style="left:470.1px;top:912.8px;font-size:12.6px;color:#ff0000">12</div>
<div class="c" style="left:470.2px;top:931.6px;font-size:15px;color:#ff0000">・</div>
<div class="l n" style="left:470.1px;top:941.6px;font-size:12.6px;color:#ff0000">19</div>
<div class="c s" style="left:564.8px;top:807.4px;font-size:13.6px;color:#ff0000">長</div>
<div class="c s" style="left:564.8px;top:821.0px;font-size:13.6px;color:#ff0000">女</div>
<div class="c s" style="left:564.8px;top:861.7px;font-size:13.6px;color:#ff0000">亜</div>
<div class="c s" style="left:564.8px;top:889.0px;font-size:13.6px;color:#ff0000">耶</div>
<div class="o" style="left:559.0px;top:868.0px;color:#ff0000;border-color:#ff0000">生</div>
<div class="l e" style="left:549.5px;top:872.0px;font-size:13px;color:#ff0000">H</div>
<div class="l n" style="left:549.4px;top:883.7px;font-size:12.6px;color:#ff0000">19</div>
<div class="c" style="left:549.5px;top:902.9px;font-size:15px;color:#ff0000">・</div>
<div class="l n" style="left:549.4px;top:912.8px;font-size:12.6px;color:#ff0000">3</div>
<div class="c" style="left:549.5px;top:931.6px;font-size:15px;color:#ff0000">・</div>
<div class="l n" style="left:549.4px;top:941.6px;font-size:12.6px;color:#ff0000">1</div>
</div></body></html>
